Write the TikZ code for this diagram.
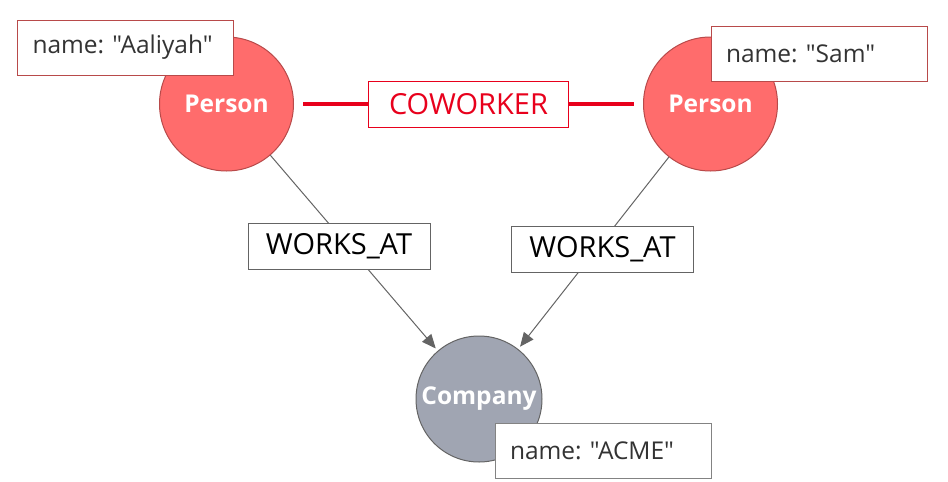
\documentclass[tikz,border=0pt]{standalone}
\usepackage{fontspec}
\setmainfont{Open Sans}[Ligatures=TeXOff]
\usetikzlibrary{arrows.meta}
\definecolor{personfill}{RGB}{255,108,108}
\definecolor{personline}{RGB}{184,74,74}
\definecolor{companyfill}{RGB}{160,165,178}
\definecolor{companyline}{RGB}{100,100,100}
\definecolor{edgegray}{RGB}{100,100,100}
\definecolor{cored}{RGB}{232,0,28}
\definecolor{proptext}{RGB}{51,51,51}
\begin{document}
\frenchspacing
\begin{tikzpicture}[x=1pt,y=-1pt,
  person/.style={circle,fill=personfill,draw=personline,line width=1pt,minimum size=134pt,inner sep=0pt,text=white,font=\fontsize{24.5}{28}\selectfont\bfseries},
  company/.style={circle,fill=companyfill,draw=companyline,line width=1pt,minimum size=126pt,inner sep=0pt,text=white,font=\fontsize{24.5}{28}\selectfont\bfseries},
  propbox/.style={draw=#1,fill=white,line width=1pt,minimum width=216pt,minimum height=55pt,text width=186pt,align=left,inner xsep=15pt,inner ysep=0pt,text=proptext,font=\fontsize{24.5}{28}\selectfont},
  rellbl/.style={draw=#1,fill=white,line width=1pt,minimum height=46pt,inner xsep=10pt,inner ysep=0pt,font=\fontsize{29}{34}\selectfont},
  edge/.style={draw=edgegray,line width=1pt,shorten >=3pt,-{Triangle[length=14pt,width=12pt]}},
  coedge/.style={draw=cored,line width=4pt,shorten <=9pt,shorten >=9pt}
]
\useasboundingbox (0,0) rectangle (948,482);
\node[person] (p1) at (226.5,104) {Person};
\node[person] (p2) at (710.5,104) {Person};
\node[company] (co) at (479,399) {Company};

\draw[coedge] (p1) -- (p2);
\node[rellbl=cored,text=cored,minimum width=200pt] (lco) at (468.5,104) {COWORKER};

\draw[edge] (p1) -- (co);
\draw[edge] (p2) -- (co);
\node[rellbl=edgegray,minimum width=182pt] (lw1) at (339,246.5) {WORKS\_AT};
\node[rellbl=edgegray,minimum width=182pt] (lw2) at (602.5,249.5) {WORKS\_AT};

\node[propbox=personline] (pa) at (125.5,47.5) {name: "Aaliyah"};
\node[propbox=personline] (ps) at (819,53.5) {name: "Sam"};
\node[propbox=companyline!80] (pc) at (603,450.5) {name: "ACME"};
\end{tikzpicture}
\end{document}
